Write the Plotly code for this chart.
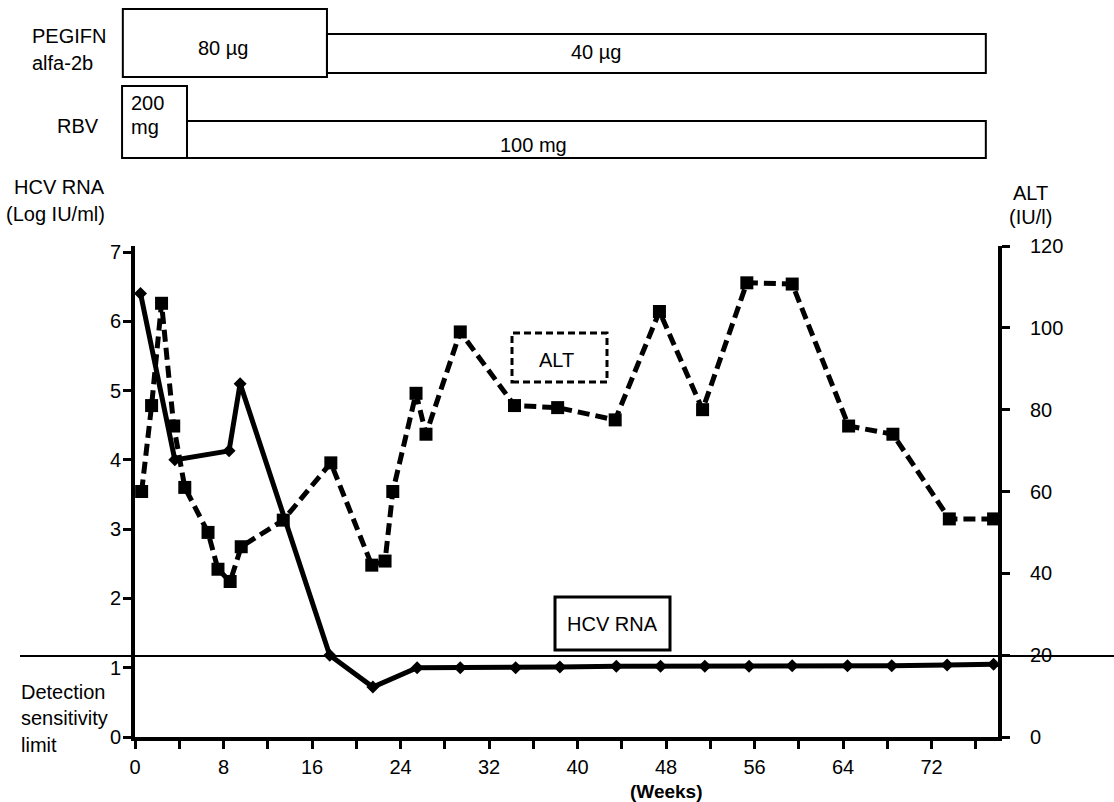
import plotly.graph_objects as go

# ---------------- data ----------------
weeks_hcv = [0.5, 3.6, 8.5, 9.5, 17.6, 21.5, 25.5, 29.4, 34.4, 38.4, 43.5, 47.5,
             51.5, 55.5, 59.4, 64.4, 68.4, 73.4, 77.6]
hcv_rna = [6.4, 4.0, 4.13, 5.1, 1.18, 0.72, 1.0, 1.0, 1.0, 1.01, 1.02, 1.02,
           1.02, 1.02, 1.03, 1.03, 1.03, 1.04, 1.05]

weeks_alt = [0.6, 1.5, 2.4, 3.5, 4.5, 6.6, 7.5, 8.6, 9.6, 13.4, 17.7, 21.4, 22.6,
             23.3, 25.4, 26.3, 29.4, 34.3, 38.2, 43.4, 47.4, 51.3, 55.3, 59.4,
             64.5, 68.5, 73.6, 77.6]
alt_values = [60, 81, 106, 76, 61, 50, 41, 38, 46.5, 53, 67, 42, 43, 60, 84, 74,
              99, 81, 80.5, 77.5, 104, 80, 111, 110.7, 76, 74, 53.3, 53.3]

detection_limit = 1.17

x_ticks = list(range(0, 80, 4))
x_labels = [str(v) if v % 8 == 0 else "" for v in x_ticks]
left_ticks = [0, 1, 2, 3, 4, 5, 6, 7]
right_ticks = [0, 20, 40, 60, 80, 100, 120]

# dosing schedule (week boundaries as drawn above the chart)
peg_bounds = [-1.1, 17.35, 76.9]
peg_labels = ["80 µg", "40 µg"]
rbv_bounds = [-1.17, 4.7, 76.9]
rbv_labels = ["200<br>mg", "100 mg"]

# ---------------- layout geometry (pixels) ----------------
W, H = 1114, 802
L, R, T, B = 135, 998, 246, 737
PW, PH = R - L, B - T
X_MAX = 78


def px(x):
    return (x - L) / PW


def py(y):
    return (B - y) / PH


def wk(w):
    return w / X_MAX


FONT = "Liberation Sans, Arial, Helvetica, sans-serif"
fs = 20

fig = go.Figure()

fig.add_trace(go.Scatter(
    x=weeks_alt, y=alt_values, yaxis="y2", mode="lines+markers",
    line=dict(color="black", width=5, dash="12px,6px"),
    marker=dict(symbol="square", size=13, color="black"),
    name="ALT", showlegend=False))

fig.add_trace(go.Scatter(
    x=weeks_hcv, y=hcv_rna, mode="lines+markers",
    line=dict(color="black", width=5),
    marker=dict(symbol="diamond", size=10, color="black"),
    name="HCV RNA", showlegend=False))

shapes = []
# detection sensitivity limit line
shapes.append(dict(type="line", xref="paper", yref="y", x0=px(20), x1=px(1114),
                   y0=detection_limit, y1=detection_limit,
                   line=dict(color="black", width=2)))

# dosing boxes
peg_y = [(9, 77), (34, 73)]
rbv_y = [(86, 158), (121, 158)]
annotations = []
for i in range(2):
    y0, y1 = peg_y[i]
    shapes.append(dict(type="rect", xref="paper", yref="paper",
                       x0=wk(peg_bounds[i]), x1=wk(peg_bounds[i + 1]),
                       y0=py(y1), y1=py(y0),
                       line=dict(color="black", width=2)))
    y0, y1 = rbv_y[i]
    shapes.append(dict(type="rect", xref="paper", yref="paper",
                       x0=wk(rbv_bounds[i]), x1=wk(rbv_bounds[i + 1]),
                       y0=py(y1), y1=py(y0),
                       line=dict(color="black", width=2)))

# legend-like boxes
shapes.append(dict(type="rect", xref="paper", yref="paper",
                   x0=px(512), x1=px(607), y0=py(382), y1=py(333),
                   line=dict(color="black", width=3, dash="7px,4px")))
shapes.append(dict(type="rect", xref="paper", yref="paper",
                   x0=px(555), x1=px(670), y0=py(650), y1=py(597),
                   line=dict(color="black", width=3)))


def txt(text, x, y, anchor="center", size=fs, bold=False):
    annotations.append(dict(
        text=("<b>%s</b>" % text) if bold else text,
        xref="paper", yref="paper", x=px(x), y=py(y),
        xanchor=anchor, yanchor="middle", showarrow=False,
        align="left" if anchor == "left" else "center",
        font=dict(family=FONT, size=size, color="black")))


txt("PEGIFN", 30, 36, "left")
txt("alfa-2b", 30, 63, "left")
txt("RBV", 78, 126)
txt("HCV RNA", 59, 187)
txt("(Log IU/ml)", 55, 214)
txt(peg_labels[0], 223, 48)
txt(peg_labels[1], 596, 52)
txt("200", 129, 103, "left")
txt("mg", 129, 127, "left")
txt(rbv_labels[1], 533, 145)
txt("ALT", 1030, 193)
txt("(IU/l)", 1030, 217)
txt("Detection", 19, 692, "left")
txt("sensitivity", 19, 718, "left")
txt("limit", 19, 745, "left")
txt("ALT", 556, 360)
txt("HCV RNA", 612, 624)
txt("(Weeks)", 666, 791, size=19, bold=True)

axis_common = dict(showgrid=False, zeroline=False, showline=True,
                   linecolor="black", linewidth=4, ticks="outside",
                   tickcolor="black", tickwidth=3, ticklen=8,
                   tickfont=dict(family=FONT, size=fs, color="black"))

fig.update_layout(
    width=W, height=H,
    margin=dict(l=L, r=W - R, t=T, b=H - B, pad=0),
    paper_bgcolor="white", plot_bgcolor="white",
    xaxis=dict(range=[0, X_MAX], tickvals=x_ticks, ticktext=x_labels,
               ticklabelstandoff=1, **axis_common),
    yaxis=dict(range=[0, 7 * PH / (B - 252)], tickvals=left_ticks,
               ticklabelstandoff=-2, **axis_common),
    yaxis2=dict(range=[0, 120], tickvals=right_ticks, overlaying="y",
                side="right", anchor="x", ticklabelstandoff=16, **axis_common),
    shapes=shapes, annotations=annotations,
    font=dict(family=FONT, size=fs, color="black"),
)

fig.write_html("out.html", config={"displayModeBar": False},
               post_script="document.body.style.margin='0';document.body.style.overflow='hidden';")
